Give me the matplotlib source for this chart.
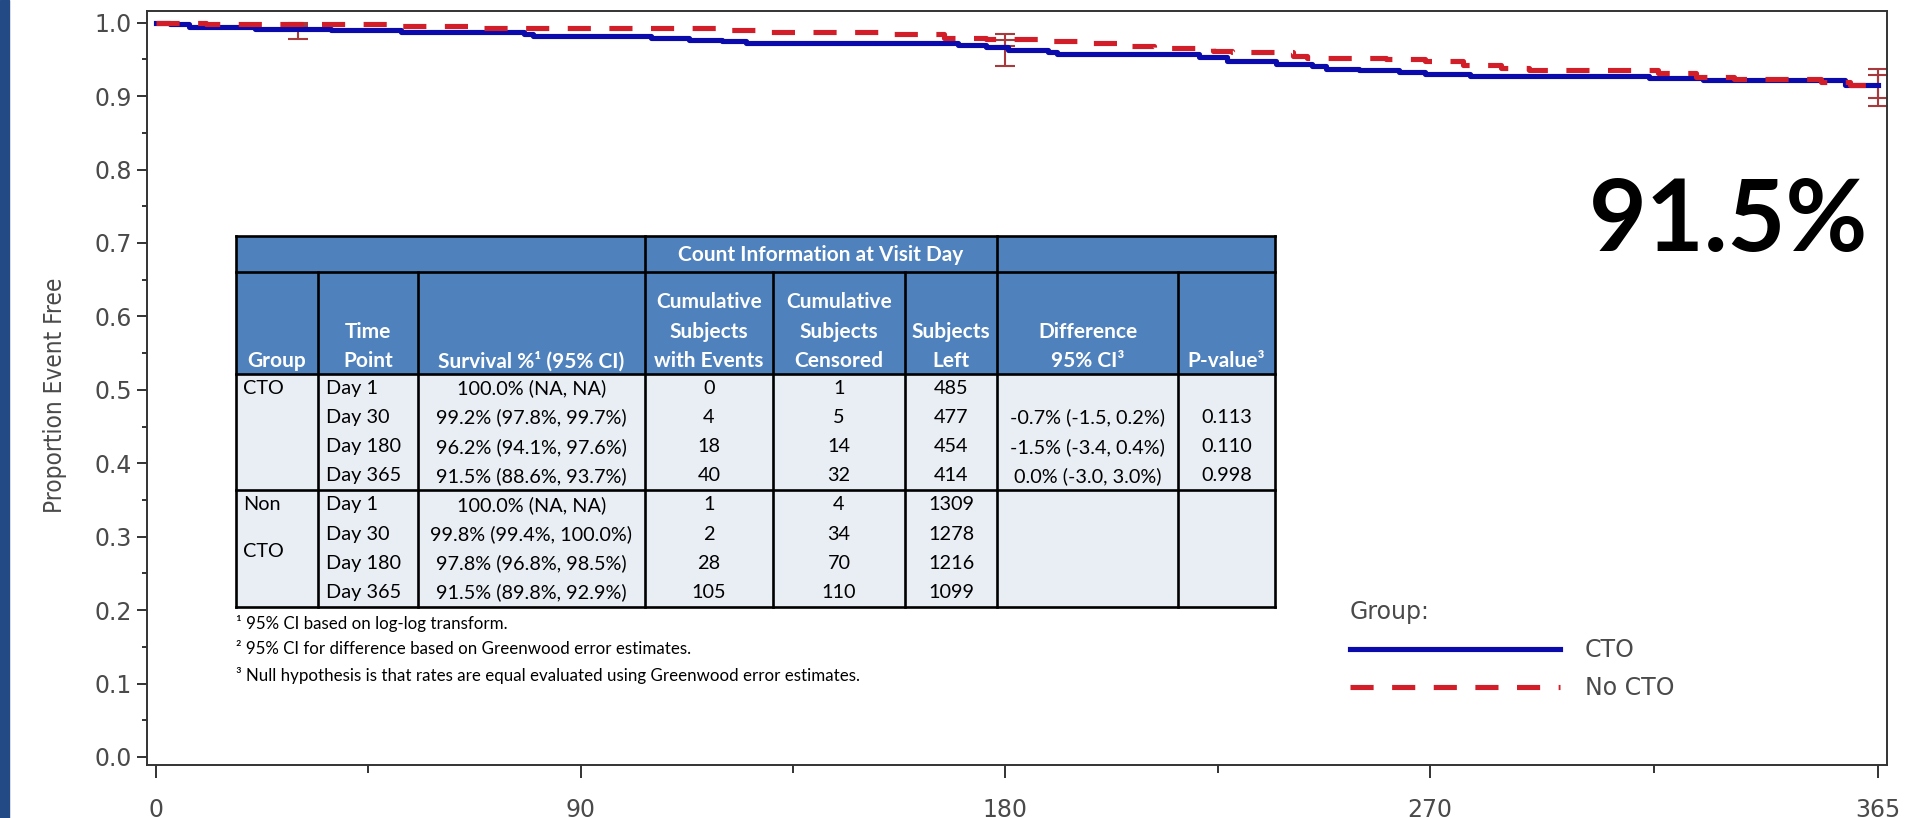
import matplotlib
matplotlib.use("Agg")
import matplotlib.pyplot as plt
from matplotlib import font_manager
from matplotlib.font_manager import FontProperties
from matplotlib.patches import Rectangle
from matplotlib.ticker import FixedLocator

# KM step curves (day, proportion event free)
cto_days = [0, 3, 7, 21, 37, 52, 78, 80, 105, 113, 120, 125, 170, 176, 180.5, 189, 191, 221, 227, 237.5,
            245, 248, 255, 263.5, 269, 278.5, 316.5, 328, 358, 365]
cto_curve = [1.000, 0.998, 0.994, 0.992, 0.990, 0.9875, 0.985, 0.9825, 0.979, 0.977, 0.9745, 0.972, 0.9695,
             0.967, 0.963, 0.960, 0.9575, 0.954, 0.9475, 0.944, 0.9415, 0.9375, 0.935, 0.9325, 0.930, 0.927,
             0.925, 0.9215, 0.915, 0.915]
non_days = [0, 10.5, 50, 67.5, 119.7, 127.4, 153.6, 167, 176, 187, 196, 203.7, 211.5, 224, 228, 241, 244,
            260.7, 269, 277, 285, 291, 318.4, 326.4, 334.4, 343, 353, 359, 365]
non_curve = [1.000, 0.998, 0.9955, 0.9928, 0.9895, 0.9873, 0.9846, 0.9795, 0.978, 0.9746, 0.9724, 0.969,
             0.9655, 0.962, 0.9596, 0.9545, 0.952, 0.950, 0.9473, 0.9424, 0.938, 0.935, 0.931, 0.926, 0.924,
             0.923, 0.919, 0.915, 0.915]

# table values
visit_days = [1, 30, 180, 365]
time_points = ["Day 1", "Day 30", "Day 180", "Day 365"]
cto_est = [100.0, 99.2, 96.2, 91.5]
cto_lo = [None, 97.8, 94.1, 88.6]
cto_hi = [None, 99.7, 97.6, 93.7]
non_est = [100.0, 99.8, 97.8, 91.5]
non_lo = [None, 99.4, 96.8, 89.8]
non_hi = [None, 100.0, 98.5, 92.9]
cto_events = [0, 4, 18, 40]
cto_censored = [1, 5, 14, 32]
cto_left = [485, 477, 454, 414]
non_events = [1, 2, 28, 105]
non_censored = [4, 34, 70, 110]
non_left = [1309, 1278, 1216, 1099]
diff_ci = ["", "-0.7% (-1.5, 0.2%)", "-1.5% (-3.4, 0.4%)", "0.0% (-3.0, 3.0%)"]
p_values = ["", "0.113", "0.110", "0.998"]
header_lines = [["Group"], ["Time", "Point"], ["Survival %\u00b9 (95% CI)"],
                ["Cumulative", "Subjects", "with Events"], ["Cumulative", "Subjects", "Censored"],
                ["Subjects", "Left"], ["Difference", "95% CI\u00b3"], ["P-value\u00b3"]]
footnotes = ["\u00b9 95% CI based on log-log transform.",
             "\u00b2 95% CI for difference based on Greenwood error estimates.",
             "\u00b3 Null hypothesis is that rates are equal evaluated using Greenwood error estimates."]

x_ticks = [0, 90, 180, 270, 365]
y_ticks = [0.0, 0.1, 0.2, 0.3, 0.4, 0.5, 0.6, 0.7, 0.8, 0.9, 1.0]

installed = {f.name for f in font_manager.fontManager.ttflist}
tfont = "Lato" if "Lato" in installed else "DejaVu Sans"

# a condensed face for the y label if there is one
ylab_prop = None
for f in font_manager.fontManager.ttflist:
    if ("Narrow" in f.name or "Condensed" in f.name or f.stretch in ("condensed", "semi-condensed")) \
            and f.weight in (400, "normal", "regular") and f.style == "normal":
        ylab_prop = FontProperties(fname=f.fname, size=17.5)
        break
if ylab_prop is None:
    ylab_prop = FontProperties(family="Liberation Sans", size=15)

W, H = 1907, 818
BLUE = "#0b0bab"
RED = "#d21e28"
ERR = "#a8393c"
GREY = "#4a4a4a"

fig = plt.figure(figsize=(W / 100, H / 100), dpi=100)
fig.patch.set_facecolor("white")
fig.patches.append(Rectangle((0, 0), 9 / W, 1, transform=fig.transFigure, color="#234a84", zorder=0))

ax = fig.add_axes([147 / W, 1 - 765 / H, 1740 / W, 754 / H])
ax.step(cto_days, cto_curve, where="post", color=BLUE, lw=3.7, label="CTO", zorder=3)
ax.step(non_days, non_curve, where="post", color=RED, lw=3.7, dashes=(4.5, 3.6), label="No CTO", zorder=4)

# confidence intervals at the visit days
for est, lo, hi in [(cto_est, cto_lo, cto_hi), (non_est, non_lo, non_hi)]:
    xs = [d for d, l in zip(visit_days, lo) if l is not None]
    ys = [e / 100 for e, l in zip(est, lo) if l is not None]
    lower = [(e - l) / 100 for e, l in zip(est, lo) if l is not None]
    upper = [(h - e) / 100 for e, h in zip(est, hi) if h is not None]
    ax.errorbar(xs, ys, yerr=[lower, upper], fmt="none", ecolor=ERR, elinewidth=1.5,
                capsize=7, capthick=1.5, zorder=2)

ax.set_xlim(-1.9, 366.9)
ax.set_ylim(-0.011, 1.016)
ax.set_xticks(x_ticks)
ax.set_xticklabels([str(t) for t in x_ticks])
ax.xaxis.set_minor_locator(FixedLocator([(a + b) / 2 for a, b in zip(x_ticks[:-1], x_ticks[1:])]))
ax.set_yticks(y_ticks)
ax.set_yticklabels([f"{t:.1f}" for t in y_ticks])
ax.yaxis.set_minor_locator(FixedLocator([t + 0.05 for t in y_ticks[:-1]]))
ax.tick_params(axis="x", which="major", length=9.5, width=1.4, pad=14, labelsize=17, labelcolor=GREY, color="#333333")
ax.tick_params(axis="x", which="minor", length=5.5, width=1.4, color="#333333")
ax.tick_params(axis="y", which="major", length=7, width=1.4, pad=4, labelsize=17, labelcolor=GREY, color="#333333")
ax.tick_params(axis="y", which="minor", length=3.5, width=1.4, color="#333333")
for lab in ax.get_xticklabels() + ax.get_yticklabels():
    lab.set_fontfamily("DejaVu Sans")
for s in ax.spines.values():
    s.set_linewidth(1.4)
    s.set_color("#333333")

leg = ax.legend(loc="upper left", bbox_to_anchor=(1350 / W, 1 - 600 / H), bbox_transform=fig.transFigure,
                frameon=False, title="Group:", alignment="left", fontsize=17, title_fontsize=17,
                handlelength=8.9, handletextpad=1.05, labelspacing=0.6, borderpad=0, borderaxespad=0)
for t in leg.get_texts() + [leg.get_title()]:
    t.set_color(GREY)
    t.set_fontfamily("DejaVu Sans")

fig.text(55 / W, 1 - 395 / H, "Proportion Event Free", rotation=90, ha="center", va="center",
         color=GREY, fontproperties=ylab_prop)

# overlay in pixel coordinates for the table and notes
ov = fig.add_axes([0, 0, 1, 1], zorder=5)
ov.set_xlim(0, W)
ov.set_ylim(H, 0)
ov.axis("off")

col_edges = [236, 318, 418, 645, 773, 905, 997, 1178, 1275]
h1_top, h1_bot, h2_bot = 236, 272, 374
row_h = 29.1
table_bot = h2_bot + 8 * row_h
HEAD = "#4f81bd"
CELL = "#e9edf4"

ov.add_patch(Rectangle((col_edges[0], h1_top), col_edges[-1] - col_edges[0], h2_bot - h1_top, color=HEAD, lw=0))
ov.add_patch(Rectangle((col_edges[0], h2_bot), col_edges[-1] - col_edges[0], table_bot - h2_bot, color=CELL, lw=0))

lk = dict(color="black", lw=1.9, solid_capstyle="projecting")
for y in [h1_top, h1_bot, h2_bot, h2_bot + 4 * row_h, table_bot]:
    ov.plot([col_edges[0], col_edges[-1]], [y, y], **lk)
for i, x in enumerate(col_edges):
    top = h1_top if i in (0, 3, 6, 8) else h1_bot
    ov.plot([x, x], [top, table_bot], **lk)

tk = dict(family=tfont, fontsize=14.3)
hk = dict(family=tfont, fontsize=15, color="white", fontweight="bold")
ov.text((col_edges[3] + col_edges[6]) / 2, (h1_top + h1_bot) / 2 + 1, "Count Information at Visit Day",
        ha="center", va="center", **hk)
for i, lines in enumerate(header_lines):
    cx = (col_edges[i] + col_edges[i + 1]) / 2
    for j, line in enumerate(reversed(lines)):
        ov.text(cx, h2_bot - 13 - j * 29.5, line, ha="center", va="center", **hk)


def fmt_surv(e, l, h):
    if l is None:
        return f"{e:.1f}% (NA, NA)"
    return f"{e:.1f}% ({l:.1f}%, {h:.1f}%)"


centers = [(col_edges[i] + col_edges[i + 1]) / 2 for i in range(len(col_edges) - 1)]
blocks = [(cto_est, cto_lo, cto_hi, cto_events, cto_censored, cto_left, diff_ci, p_values),
          (non_est, non_lo, non_hi, non_events, non_censored, non_left, [""] * 4, [""] * 4)]
for b, (est, lo, hi, ev, cen, left, dif, pv) in enumerate(blocks):
    for r in range(4):
        yc = h2_bot + (4 * b + r + 0.5) * row_h
        ov.text(col_edges[1] + 8, yc, time_points[r], ha="left", va="center", **tk)
        ov.text(centers[2], yc, fmt_surv(est[r], lo[r], hi[r]), ha="center", va="center", **tk)
        ov.text(centers[3], yc, str(ev[r]), ha="center", va="center", **tk)
        ov.text(centers[4], yc, str(cen[r]), ha="center", va="center", **tk)
        ov.text(centers[5], yc, str(left[r]), ha="center", va="center", **tk)
        ov.text(centers[6], yc, dif[r], ha="center", va="center", **tk)
        ov.text(centers[7], yc, pv[r], ha="center", va="center", **tk)

ov.text(col_edges[0] + 7, h2_bot + 0.5 * row_h, "CTO", ha="left", va="center", **tk)
ov.text(col_edges[0] + 7, h2_bot + 4.5 * row_h, "Non", ha="left", va="center", **tk)
ov.text(col_edges[0] + 7, h2_bot + 6.1 * row_h, "CTO", ha="left", va="center", **tk)

for k, note in enumerate(footnotes):
    ov.text(col_edges[0], 624 + k * 25.5, note, ha="left", va="center", family=tfont, fontsize=12.2)

ov.text(1729, 222, "91.5%", ha="center", va="center", family=tfont, fontweight="bold", fontsize=72)

fig.savefig("out.png", dpi=100, facecolor="white")
